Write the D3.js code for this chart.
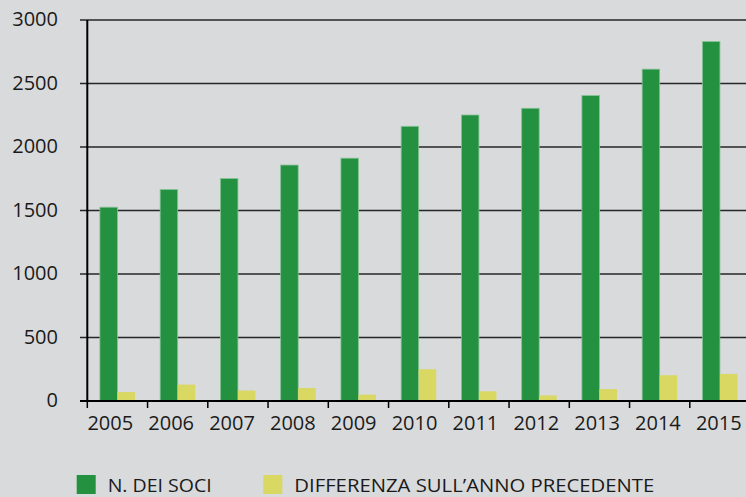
<!DOCTYPE html>
<html>
<head>
<meta charset="utf-8">
<script src="https://cdn.jsdelivr.net/npm/d3@7"></script>
<style>
  body { margin: 0; background: #d9dadc; }
  svg { display: block; font-family: "Open Sans", sans-serif; }
</style>
</head>
<body>
<svg id="chart" width="746" height="497"></svg>
<script>
// Data
var years = ["2005", "2006", "2007", "2008", "2009", "2010", "2011", "2012", "2013", "2014", "2015"];
var soci = [1526, 1665, 1752, 1858, 1912, 2163, 2252, 2305, 2405, 2613, 2830];
var differenza = [70, 129, 82, 102, 50, 250, 76, 44, 94, 203, 213];
var yTicks = [0, 500, 1000, 1500, 2000, 2500, 3000];
var seriesNames = ["N. DEI SOCI", "DIFFERENZA SULL\u2019ANNO PRECEDENTE"];
var colors = ["#23913f", "#d8d862"];

var svg = d3.select("#chart");

// Plot area
var plotLeft = 87.3, plotBottom = 401, plotTop = 20;
var x0 = d3.scaleBand()
    .domain(years)
    .range([plotLeft, plotLeft + 11 * 60.25])
    .padding(0);

var x1 = d3.scaleBand()
    .domain([0, 1])
    .range([0, x0.bandwidth()])
    .paddingInner(0)
    .paddingOuter(0.72);

var y = d3.scaleLinear()
    .domain([0, 3000])
    .range([plotBottom, plotTop]);

// Gridlines
svg.append("g")
    .selectAll("line")
    .data(yTicks.filter(function(d) { return d > 0; }))
    .enter()
    .append("line")
    .attr("x1", 80)
    .attr("x2", 746)
    .attr("y1", function(d) { return y(d); })
    .attr("y2", function(d) { return y(d); })
    .attr("stroke", "#262626")
    .attr("stroke-width", 1.4);

// Y labels
svg.append("g")
    .selectAll("text")
    .data(yTicks)
    .enter()
    .append("text")
    .attr("x", 58)
    .attr("y", function(d) { return y(d); })
    .attr("dy", "0.3em")
    .attr("text-anchor", "end")
    .attr("font-size", 20)
    .attr("fill", "#1a1a1a")
    .text(function(d) { return d; });

// Bars
var rows = years.map(function(yr, i) { return { year: yr, values: [soci[i], differenza[i]] }; });

var groups = svg.append("g")
    .selectAll("g")
    .data(rows)
    .enter()
    .append("g")
    .attr("transform", function(d) { return "translate(" + x0(d.year) + ",0)"; });

groups.selectAll("rect")
    .data(function(d) { return d.values.map(function(v, k) { return { k: k, v: v }; }); })
    .enter()
    .append("rect")
    .attr("x", function(d) { return x1(d.k); })
    .attr("y", function(d) { return y(d.v); })
    .attr("width", x1.bandwidth())
    .attr("height", function(d) { return plotBottom - y(d.v); })
    .attr("fill", function(d) { return colors[d.k]; })
    .attr("stroke", function(d) { return d.k == 0 ? "#86c296" : "none"; })
    .attr("stroke-width", 0.8);

// Y axis line
svg.append("line")
    .attr("x1", plotLeft).attr("x2", plotLeft)
    .attr("y1", plotTop).attr("y2", plotBottom)
    .attr("stroke", "#000")
    .attr("stroke-width", 2);

// X axis line and ticks
svg.append("line")
    .attr("x1", 80).attr("x2", 746)
    .attr("y1", plotBottom).attr("y2", plotBottom)
    .attr("stroke", "#000")
    .attr("stroke-width", 2);

svg.append("g")
    .selectAll("line")
    .data(years)
    .enter()
    .append("line")
    .attr("x1", function(d) { return x0(d); })
    .attr("x2", function(d) { return x0(d); })
    .attr("y1", plotBottom)
    .attr("y2", plotBottom + 7)
    .attr("stroke", "#000")
    .attr("stroke-width", 1.5);

svg.append("g")
    .selectAll("text")
    .data(years)
    .enter()
    .append("text")
    .attr("x", function(d, i) { return x0(d) + 23 + i * 0.6; })
    .attr("y", 430)
    .attr("text-anchor", "middle")
    .attr("font-size", 20)
    .attr("fill", "#1a1a1a")
    .text(function(d) { return d; });

// Legend
var legendX = [76.7, 263.3];
var legend = svg.append("g");

legend.selectAll("rect")
    .data(seriesNames)
    .enter()
    .append("rect")
    .attr("x", function(d, i) { return legendX[i]; })
    .attr("y", 475)
    .attr("width", 19)
    .attr("height", 19)
    .attr("fill", function(d, i) { return colors[i]; });

legend.selectAll("text")
    .data(seriesNames)
    .enter()
    .append("text")
    .attr("x", function(d, i) { return legendX[i] + 31; })
    .attr("y", 492.3)
    .attr("font-size", 19)
    .attr("fill", "#1a1a1a")
    .attr("textLength", function(d, i) { return i == 0 ? 104 : 360; })
    .attr("lengthAdjust", "spacingAndGlyphs")
    .text(function(d) { return d; });
</script>
</body>
</html>
